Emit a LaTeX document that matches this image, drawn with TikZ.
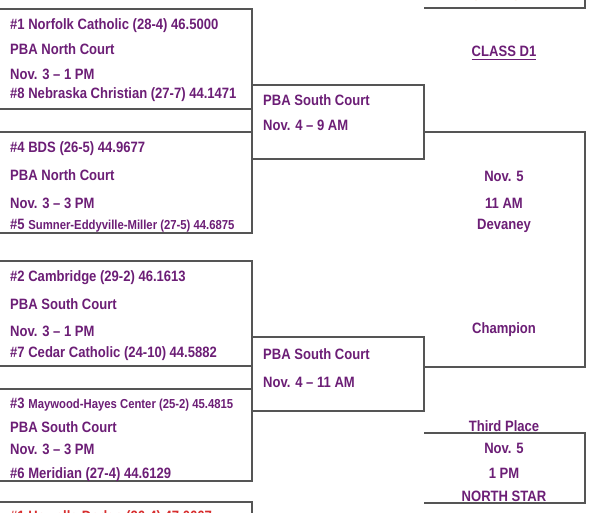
\documentclass[tikz,border=0pt]{standalone}
\usepackage{fontspec}
\setmainfont{Liberation Sans}[FakeStretch=0.87]
\definecolor{vpurple}{RGB}{108,30,118}
\definecolor{vred}{RGB}{215,45,45}
\definecolor{vorange}{RGB}{230,165,80}
\definecolor{linegray}{RGB}{85,85,85}
\begin{document}
\begin{tikzpicture}[x=1pt,y=-1pt,
  lbl/.style={inner sep=0pt, anchor=base west, text=vpurple, font=\fontsize{15}{18}\selectfont\bfseries},
  ctr/.style={lbl, anchor=base},
  brk/.style={draw=linegray, line width=1.3pt},
]
\useasboundingbox (0,0) rectangle (600,513);
\fill[white] (0,0) rectangle (600,513);
\clip (0,0) rectangle (600,513);
\newcommand{\smalltxt}{\fontsize{13}{15}\selectfont}

% corner coordinates
\coordinate (r1a) at (-2,9);   \coordinate (r1b) at (252,9);   \coordinate (r1c) at (252,109); \coordinate (r1d) at (-2,109);
\coordinate (r2a) at (-2,132); \coordinate (r2b) at (252,132); \coordinate (r2c) at (252,233); \coordinate (r2d) at (-2,233);
\coordinate (r3a) at (-2,261); \coordinate (r3b) at (252,261); \coordinate (r3c) at (252,366); \coordinate (r3d) at (-2,366);
\coordinate (r4a) at (-2,389); \coordinate (r4b) at (252,389); \coordinate (r4c) at (252,481); \coordinate (r4d) at (-2,481);
\coordinate (r5a) at (-2,502); \coordinate (r5b) at (252,502); \coordinate (r5c) at (252,530);
\coordinate (s1a) at (252,85);  \coordinate (s1b) at (424,85);  \coordinate (s1c) at (424,159); \coordinate (s1d) at (252,159);
\coordinate (s2a) at (252,337); \coordinate (s2b) at (424,337); \coordinate (s2c) at (424,411); \coordinate (s2d) at (252,411);
\coordinate (fa) at (424,132); \coordinate (fb) at (585,132); \coordinate (fc) at (585,367); \coordinate (fd) at (424,367);
\coordinate (ta) at (424,433); \coordinate (tb) at (585,433); \coordinate (tc) at (585,503); \coordinate (td) at (424,503);
\coordinate (pa) at (585,-5); \coordinate (pb) at (585,8); \coordinate (pc) at (424,8);

% bracket lines
\draw[brk] (r1a) -- (r1b) -- (r1c) -- (r1d);
\draw[brk] (r2a) -- (r2b) -- (r2c) -- (r2d);
\draw[brk] (r3a) -- (r3b) -- (r3c) -- (r3d);
\draw[brk] (r4a) -- (r4b) -- (r4c) -- (r4d);
\draw[brk] (r5a) -- (r5b) -- (r5c);
\draw[brk] (s1a) rectangle (s1c);
\draw[brk] (s2a) rectangle (s2c);
\draw[brk] (fa) -- (fb) -- (fc) -- (fd);
\draw[brk] (ta) -- (tb) -- (tc) -- (td);
\draw[brk] (pa) -- (pb) -- (pc);

% first round texts
\node[lbl] (t11) at (10,30) {\#1 Norfolk Catholic (28-4) 46.5000};
\node[lbl] (t12) at (10,55) {PBA North Court};
\node[lbl] (t13) at (10,80) {Nov. 3 – 1 PM};
\node[lbl] (t14) at (10,99) {\#8 Nebraska Christian (27-7) 44.1471};

\node[lbl] (t21) at (10,153) {\#4 BDS (26-5) 44.9677};
\node[lbl] (t22) at (10,181) {PBA North Court};
\node[lbl] (t23) at (10,209) {Nov. 3 – 3 PM};
\node[lbl] (t24) at (10,230) {\#5 {\smalltxt Sumner-Eddyville-Miller (27-5) 44.6875}};

\node[lbl] (t31) at (10,281) {\#2 Cambridge (29-2) 46.1613};
\node[lbl] (t32) at (10,309) {PBA South Court};
\node[lbl] (t33) at (10,336) {Nov. 3 – 1 PM};
\node[lbl] (t34) at (10,357) {\#7 Cedar Catholic (24-10) 44.5882};

\node[lbl] (t41) at (10,408) {\#3 {\smalltxt Maywood-Hayes Center (25-2) 45.4815}};
\node[lbl] (t42) at (10,432) {PBA South Court};
\node[lbl] (t43) at (10,454) {Nov. 3 – 3 PM};
\node[lbl] (t44) at (10,478) {\#6 Meridian (27-4) 44.6129};

\node[lbl, text=vred] (t51) at (10,521) {\#1 Howells-Dodge (26-4) 47.0667};

% semifinal texts
\node[lbl] (s11) at (263,106) {PBA South Court};
\node[lbl] (s12) at (263,131) {Nov. 4 – 9 AM};
\node[lbl] (s21) at (263,359) {PBA South Court};
\node[lbl] (s22) at (263,387) {Nov. 4 – 11 AM};

% right column
\node[ctr, text=vorange] (ns0) at (504,1) {NORTH STAR};
\node[ctr] (classd) at (504,57) {CLASS D1};
\draw[vpurple, line width=1pt] ([yshift=-2pt]classd.south west) -- ([yshift=-2pt]classd.south east);
\node[ctr] (f1) at (504,182) {Nov. 5};
\node[ctr] (f2) at (504,209) {11 AM};
\node[ctr] (f3) at (504,230) {Devaney};
\node[ctr] (f4) at (504,334) {Champion};

\node[ctr] (p1) at (504,431) {Third Place};
\node[ctr] (p2) at (504,453) {Nov. 5};
\node[ctr] (p3) at (504,478) {1 PM};
\node[ctr] (p4) at (504,501) {NORTH STAR};
\end{tikzpicture}
\end{document}
